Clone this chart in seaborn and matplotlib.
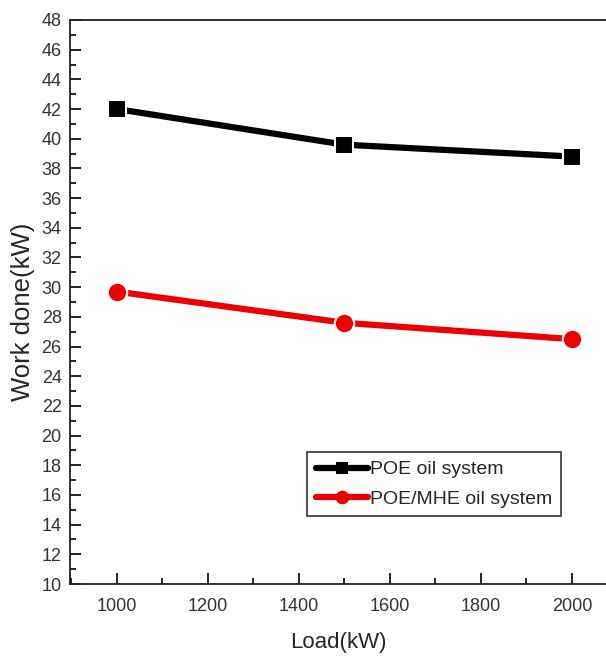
import numpy as np
import seaborn as sns
import matplotlib.pyplot as plt
from matplotlib.ticker import MultipleLocator

# data
load = [1000, 1500, 2000]
poe = [42.0, 39.6, 38.8]
poe_mhe = [29.7, 27.6, 26.5]
series_names = ["POE oil system", "POE/MHE oil system"]

sns.set_theme(style="white")
plt.rcParams["font.family"] = ["Liberation Sans", "DejaVu Sans"]

fig = plt.figure(figsize=(6.06, 6.62), dpi=100)
ax = fig.add_axes([0.1155, 0.1178, 0.8845, 0.852])

sns.lineplot(x=load, y=poe, ax=ax, color="black", lw=4.5, marker="s",
             markersize=13, markeredgewidth=1.5, markeredgecolor="white",
             label=series_names[0])
sns.lineplot(x=load, y=poe_mhe, ax=ax, color="#ee0000", lw=4.5, marker="o",
             markersize=14, markeredgewidth=1.5, markeredgecolor="white",
             label=series_names[1])

ax.set_xlim(897, 2075)
ax.set_ylim(10, 48)
ax.xaxis.set_major_locator(MultipleLocator(200))
ax.xaxis.set_minor_locator(MultipleLocator(100))
ax.yaxis.set_major_locator(MultipleLocator(2))
ax.yaxis.set_minor_locator(MultipleLocator(1))

ax.tick_params(which="major", direction="in", length=8, width=1.2,
               labelsize=13, color="black", pad=6)
ax.tick_params(which="minor", direction="in", length=4, width=1.2, color="black")
ax.tick_params(axis="x", which="major", pad=10)
ax.tick_params(which="both", bottom=True, left=True)
for t in ax.get_xticklabels() + ax.get_yticklabels():
    t.set_color("#333333")

for side in ["left", "bottom", "top"]:
    ax.spines[side].set_color("#222222")
    ax.spines[side].set_linewidth(1.3)
ax.spines["right"].set_visible(False)

ax.set_xlabel("Load(kW)", fontsize=16, labelpad=12)
ax.set_ylabel("Work done(kW)", fontsize=18.5)
ax.yaxis.set_label_coords(-0.066, 0.482)

leg = ax.legend(loc="lower left", bbox_to_anchor=(0.442, 0.12), fontsize=14,
                frameon=True, fancybox=False, edgecolor="black",
                handlelength=2.7, handletextpad=0.1, borderpad=0.45,
                labelspacing=0.6, markerscale=0.7, borderaxespad=0)
leg.get_frame().set_linewidth(1.2)
for h in leg.legend_handles:
    h.set_markeredgewidth(0)

fig.savefig("out.png", dpi=100)
